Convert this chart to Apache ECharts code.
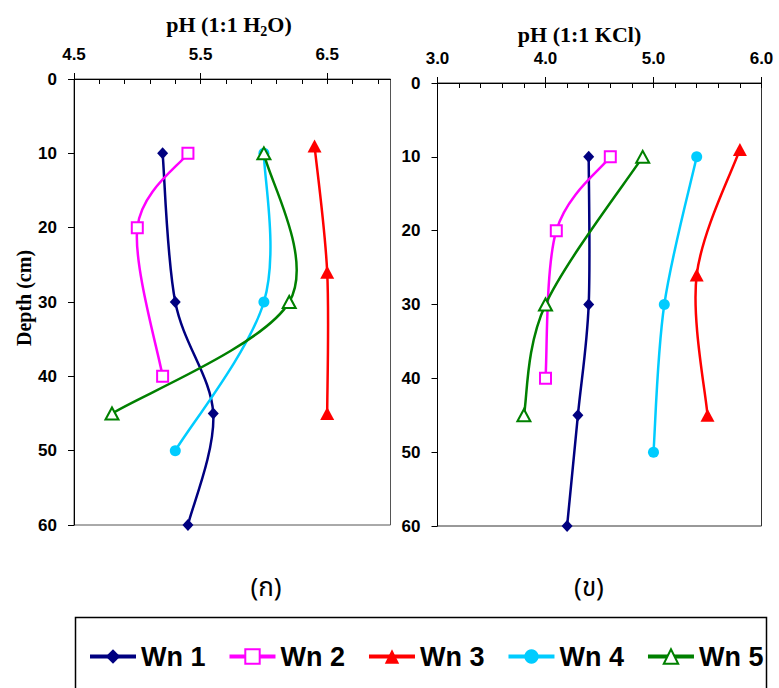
<!DOCTYPE html>
<html>
<head>
<meta charset="utf-8">
<script src="https://cdn.jsdelivr.net/npm/echarts@6/dist/echarts.min.js"></script>
<style>
  html, body { margin: 0; padding: 0; background: #ffffff; }
  #chart { width: 779px; height: 688px; }
</style>
</head>
<body>
<div id="chart"></div>
<script>
// Soil pH profiles of five pedons: each point is [pH, depth in cm]
const seriesNames = ['Wn 1', 'Wn 2', 'Wn 3', 'Wn 4', 'Wn 5'];

// pH measured in water (1:1 H2O)
const wn1Water = [[5.2, 10], [5.3, 30], [5.6, 45], [5.4, 60]];
const wn2Water = [[5.4, 10], [5.0, 20], [5.2, 40]];
const wn3Water = [[6.4, 9], [6.5, 26], [6.5, 45]];
const wn4Water = [[6.0, 10], [6.0, 30], [5.3, 50]];
const wn5Water = [[6.0, 10], [6.2, 30], [4.8, 45]];

// pH measured in potassium chloride (1:1 KCl)
const wn1Kcl = [[4.4, 10], [4.4, 30], [4.3, 45], [4.2, 60]];
const wn2Kcl = [[4.6, 10], [4.1, 20], [4.0, 40]];
const wn3Kcl = [[5.8, 9], [5.4, 26], [5.5, 45]];
const wn4Kcl = [[5.4, 10], [5.1, 30], [5.0, 50]];
const wn5Kcl = [[4.9, 10], [4.0, 30], [3.8, 45]];

// axis ticks and labels
const depthTicks = [0, 10, 20, 30, 40, 50, 60];
const waterLabels = [4.5, 5.5, 6.5];
const waterMinorTicks = [4.5, 4.7, 4.9, 5.1, 5.3, 5.5, 5.7, 5.9, 6.1, 6.3, 6.5, 6.7, 6.9];
const kclLabels = [3.0, 4.0, 5.0, 6.0];
const kclMinorTicks = [3.0, 3.2, 3.4, 3.6, 3.8, 4.0, 4.2, 4.4, 4.6, 4.8, 5.0, 5.2, 5.4, 5.6, 5.8, 6.0];

const colors = ['#000080', '#FF00FF', '#FF0000', '#00CCFF', '#008000'];
const symbols = ['diamond', 'emptyRect', 'triangle', 'circle', 'emptyTriangle'];
const symbolSizes = [[11, 12], 11, [14, 13], 11, [13, 12]];

const SANS = "'Liberation Sans', Arial, sans-serif";
const SERIF = "'Liberation Serif', 'Times New Roman', serif";
const THAI = "'Noto Sans Thai', 'Noto Sans', sans-serif";

const chart = echarts.init(document.getElementById('chart'), null, { renderer: 'svg' });

function topAxis(gridIndex, min, max, interval, labels, minorTicks) {
  return [
    {
      type: 'value', gridIndex: gridIndex, position: 'top',
      min: min, max: max, interval: interval,
      axisLine: { show: true, onZero: false, lineStyle: { color: '#000', width: 1 } },
      axisTick: { show: true, inside: false, length: 6, customValues: labels, lineStyle: { color: '#000' } },
      axisLabel: {
        show: true, customValues: labels, margin: 16,
        fontFamily: SANS, fontWeight: 'bold', fontSize: 17, color: '#000',
        formatter: v => v.toFixed(1)
      },
      splitLine: { show: false }
    },
    {
      type: 'value', gridIndex: gridIndex, position: 'top',
      min: min, max: max, interval: interval,
      axisLine: { show: false },
      axisTick: { show: true, inside: true, length: 5, customValues: minorTicks, lineStyle: { color: '#000' } },
      axisLabel: { show: false },
      splitLine: { show: false }
    }
  ];
}

const xWater = topAxis(0, 4.5, 7.0, 0.5, waterLabels, waterMinorTicks);
const xKcl = topAxis(1, 3.0, 6.0, 1, kclLabels, kclMinorTicks);

function depthAxis(gridIndex) {
  return {
    type: 'value', gridIndex: gridIndex, inverse: true,
    min: 0, max: 60, interval: 10,
    axisLine: { show: true, onZero: false, lineStyle: { color: '#000', width: 1 } },
    axisTick: { show: true, inside: false, length: 6, customValues: depthTicks, lineStyle: { color: '#000' } },
    axisLabel: {
      margin: 17, customValues: depthTicks,
      fontFamily: SANS, fontWeight: 'bold', fontSize: 17, color: '#000'
    },
    splitLine: { show: false }
  };
}

const waterData = [wn1Water, wn2Water, wn3Water, wn4Water, wn5Water];
const kclData = [wn1Kcl, wn2Kcl, wn3Kcl, wn4Kcl, wn5Kcl];

// Smoothed profile curve: cubic Bezier through the points with
// Catmull-Rom tangents (one sixth of the neighbour chord), ends clamped.
function smoothCurve(points, color, xAxisIndex, yAxisIndex) {
  return {
    type: 'custom',
    coordinateSystem: 'cartesian2d',
    xAxisIndex: xAxisIndex,
    yAxisIndex: yAxisIndex,
    data: points,
    encode: { x: 0, y: 1 },
    silent: true,
    clip: false,
    z: 2,
    renderItem: function (params, api) {
      if (params.dataIndex !== 0) return null;
      const p = points.map(d => api.coord(d));
      let path = 'M' + p[0][0] + ' ' + p[0][1];
      for (let i = 0; i < p.length - 1; i++) {
        const p0 = p[i - 1] || p[i];
        const p1 = p[i];
        const p2 = p[i + 1];
        const p3 = p[i + 2] || p[i + 1];
        const c1x = p1[0] + (p2[0] - p0[0]) / 6;
        const c1y = p1[1] + (p2[1] - p0[1]) / 6;
        const c2x = p2[0] - (p3[0] - p1[0]) / 6;
        const c2y = p2[1] - (p3[1] - p1[1]) / 6;
        path += ' C' + c1x + ' ' + c1y + ' ' + c2x + ' ' + c2y + ' ' + p2[0] + ' ' + p2[1];
      }
      return {
        type: 'path',
        shape: { pathData: path },
        style: { fill: 'none', stroke: color, lineWidth: 2.5, lineJoin: 'round', lineCap: 'round' }
      };
    }
  };
}

function buildSeries(dataSets, xAxisIndex, yAxisIndex) {
  const curves = dataSets.map((d, i) => smoothCurve(d, colors[i], xAxisIndex, yAxisIndex));
  const markers = dataSets.map((d, i) => ({
    name: seriesNames[i],
    type: 'line',
    xAxisIndex: xAxisIndex,
    yAxisIndex: yAxisIndex,
    data: d,
    symbol: symbols[i],
    symbolSize: symbolSizes[i],
    showAllSymbol: true,
    clip: false,
    lineStyle: { color: colors[i], width: 2.5, opacity: 0 },
    itemStyle: { color: colors[i], borderColor: colors[i], borderWidth: (i === 1 || i === 4) ? 1 : 0 },
    emphasis: { disabled: true },
    z: 3
  }));
  return curves.concat(markers);
}

const option = {
  backgroundColor: '#ffffff',
  animation: false,
  grid: [
    { left: 74, top: 79, width: 316.5, height: 446, show: true, borderColor: '#555', borderWidth: 1, backgroundColor: 'transparent' },
    { left: 437.5, top: 83, width: 324, height: 443, show: true, borderColor: '#333', borderWidth: 1, backgroundColor: 'transparent' }
  ],
  xAxis: [xWater[0], xWater[1], xKcl[0], xKcl[1]],
  yAxis: [depthAxis(0), depthAxis(1)],
  legend: {
    data: seriesNames,
    left: 88, top: 643,
    orient: 'horizontal',
    itemWidth: 46, itemHeight: 18, itemGap: 22,
    padding: 0,
    lineStyle: { width: 4, opacity: 1 },
    textStyle: {
      fontFamily: SANS, fontWeight: 'bold', fontSize: 27, color: '#000'
    },
    selectedMode: false
  },
  graphic: [
    {
      type: 'text', x: 229, y: 22,
      style: {
        text: '{a|pH (1:1 H}{s|2}{a|O)}',
        align: 'center', verticalAlign: 'middle',
        rich: {
          a: { fontFamily: SERIF, fontWeight: 'bold', fontSize: 22, lineHeight: 26, fill: '#000', verticalAlign: 'bottom' },
          s: { fontFamily: SERIF, fontWeight: 'bold', fontSize: 14, lineHeight: 14, fill: '#000', verticalAlign: 'bottom', padding: [0, 0, -3, 0] }
        }
      }
    },
    {
      type: 'text', x: 579.5, y: 34,
      style: {
        text: 'pH (1:1 KCl)', align: 'center', verticalAlign: 'middle',
        fontFamily: SERIF, fontWeight: 'bold', fontSize: 22, fill: '#000'
      }
    },
    {
      type: 'text', x: 24, y: 298, rotation: Math.PI / 2,
      style: {
        text: 'Depth (cm)', align: 'center', verticalAlign: 'middle',
        fontFamily: SERIF, fontWeight: 'bold', fontSize: 20, fill: '#000'
      }
    },
    {
      type: 'text', x: 266, y: 588,
      style: {
        text: '(ก)', align: 'center', verticalAlign: 'middle',
        fontFamily: THAI, fontSize: 26, fill: '#000'
      }
    },
    {
      type: 'text', x: 589, y: 588,
      style: {
        text: '(ข)', align: 'center', verticalAlign: 'middle',
        fontFamily: THAI, fontSize: 26, fill: '#000'
      }
    },
    {
      type: 'rect', shape: { x: 75.5, y: 617.5, width: 691, height: 80 },
      style: { fill: 'none', stroke: '#000', lineWidth: 1.5 }, z: -1
    }
  ],
  series: buildSeries(waterData, 0, 0).concat(buildSeries(kclData, 2, 1))
};

chart.setOption(option);
</script>
</body>
</html>
